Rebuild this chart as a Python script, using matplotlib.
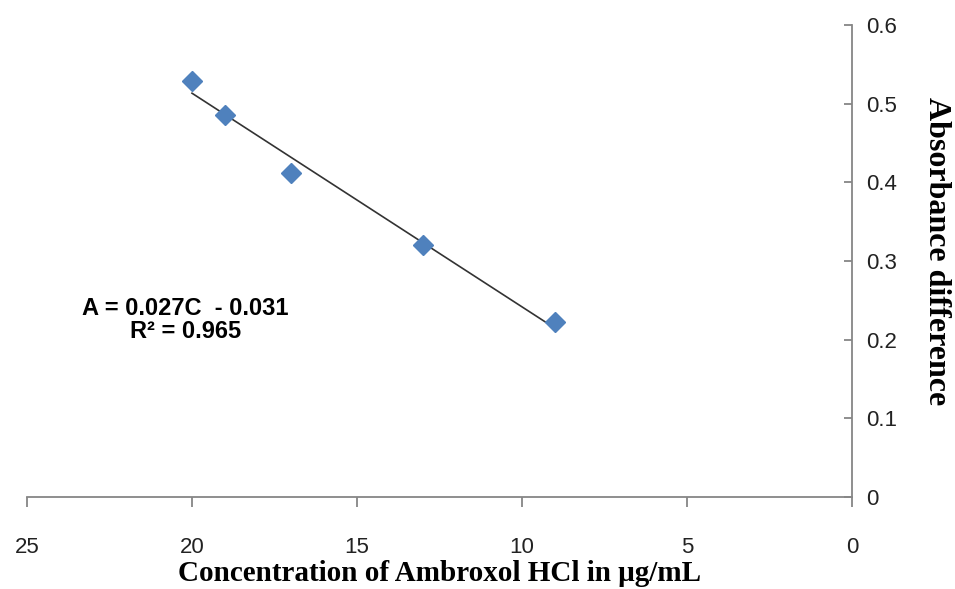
import numpy as np
import matplotlib
matplotlib.use('Agg')
import matplotlib.pyplot as plt

conc = [20, 19, 17, 13, 9]
absdiff = [0.529, 0.486, 0.412, 0.320, 0.222]
xticks = [25, 20, 15, 10, 5, 0]
yticks = [0, 0.1, 0.2, 0.3, 0.4, 0.5, 0.6]
eq_text = 'A = 0.027C  - 0.031\nR² = 0.965'

AXCOL = '#868686'

fig = plt.figure(figsize=(9.55, 5.89), dpi=100)
ax = fig.add_axes([27/955, 92/589, 825/955, 472/589])

# trend line through the points
k, b = np.polyfit(conc, absdiff, 1)
xs = np.array([max(conc), min(conc)])
ax.plot(xs, k*xs + b, '-', c='#333333', lw=1.2, zorder=2)
ax.plot(conc, absdiff, 'D', c='#4F81BD', ms=10, mec='#4F81BD', zorder=3)

ax.set_xlim(25, 0)
ax.set_ylim(0, 0.6)
ax.set_xticks(xticks)
ax.set_yticks(yticks)
ax.set_xticklabels([str(t) for t in xticks])
ax.set_yticklabels(['0', '0.1', '0.2', '0.3', '0.4', '0.5', '0.6'])

for s in ['top', 'left']:
    ax.spines[s].set_visible(False)
for s in ['bottom', 'right']:
    ax.spines[s].set_color(AXCOL)
    ax.spines[s].set_linewidth(1.3)

ax.yaxis.tick_right()
ax.tick_params(axis='x', direction='out', length=7, width=1.3, color=AXCOL,
               pad=22, labelsize=16, labelcolor='#222222')
ax.tick_params(axis='y', direction='in', length=6, width=1.3, color=AXCOL,
               pad=10, labelsize=16, labelcolor='#222222')
for lab in ax.get_xticklabels() + ax.get_yticklabels():
    lab.set_family('Liberation Sans')

ax.set_xlabel('Concentration of Ambroxol HCl in μg/mL', family='Liberation Serif',
              fontweight='bold', fontsize=21, labelpad=1)
ax.yaxis.set_label_position('right')
ax.set_ylabel('Absorbance difference', family='Liberation Serif', fontweight='bold',
              fontsize=23, rotation=-90, va='center')
ax.yaxis.set_label_coords(1.103, 0.52)

ax.text(20.2, 0.225, eq_text, ha='center', va='center', family='Liberation Sans',
        fontweight='bold', fontsize=17, linespacing=1.0)

fig.savefig('out.png', dpi=100)
